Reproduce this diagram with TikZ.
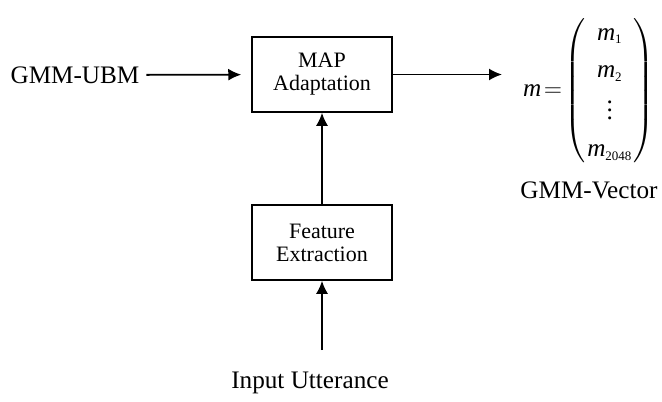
\documentclass[tikz,border=0pt]{standalone}
\usepackage{amsmath}
\usepackage{fontspec}
\setmainfont{Liberation Serif}
\usetikzlibrary{arrows.meta}

\tikzset{
  block/.style={draw, line width=0.75pt, minimum width=70pt, minimum height=37.5pt,
    inner sep=0pt, align=center, font=\fontsize{11}{11.5}\selectfont},
  label/.style={font=\fontsize{12.6}{14}\selectfont},
  flow/.style={line width=0.9pt, -{Latex[length=6.5pt,width=6pt]}}
}
\newcommand{\vm}[1]{\textit{m}_{\text{\fontsize{6.5}{7}\selectfont #1}}}
\delimitershortfall=12pt
\delimiterfactor=850

\begin{document}
\begin{tikzpicture}[x=0.5pt,y=-0.5pt]
  \useasboundingbox (0,0) rectangle (662,401);

  % blocks
  \node[block] (map) at (322,74.5) {MAP\\Adaptation};
  \node[block] (feat) at (322,242.5) {Feature\\Extraction};

  % labels
  \node[label] (ubm) at (75,75) {GMM-UBM};
  \node[label] (input) at (310,383) {Input Utterance};
  \node[label, anchor=west] (vec) at (516,91) {$\textit{m}\!=\!\left(\renewcommand{\arraystretch}{1.33}\setlength{\arraycolsep}{0.7pt}\begin{array}{c}
      \vm{1}\\ \vm{2}\\ \vdots\\ \vm{2048}\end{array}\right)$};
  \node[label] (vname) at (589,190) {GMM-Vector};
  \coordinate (src) at (322,350);

  % connectors
  \draw[flow, shorten >=5pt] (ubm) -- (map);
  \draw[flow] (feat) -- (map);
  \draw[flow] (src) -- (feat);
  \draw[flow, shorten >=7pt] (map.east) -- (map.east -| vec.west);

\end{tikzpicture}
\end{document}
